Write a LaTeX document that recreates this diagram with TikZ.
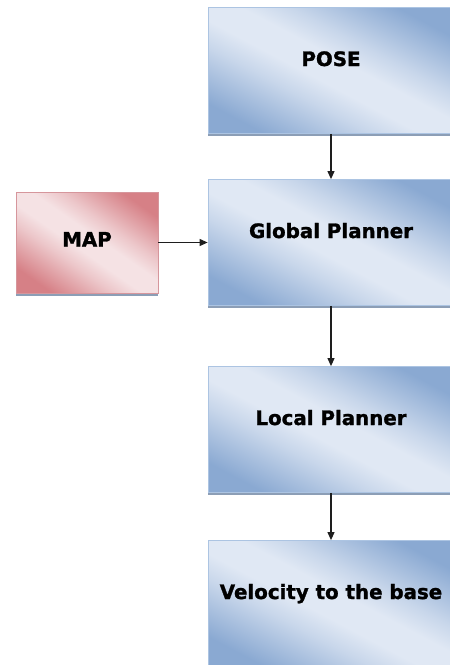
\documentclass[tikz,border=0pt]{standalone}
\usepackage{fontspec}
\setmainfont{DejaVu Sans}
\newfontfamily\blockfont{DejaVu Sans Bold}[FakeBold=1.4]
\usetikzlibrary{arrows.meta, shadows, positioning}
\definecolor{bluedark}{RGB}{138,169,210}
\definecolor{bluelight}{RGB}{224,232,244}
\definecolor{blueline}{RGB}{172,196,226}
\definecolor{reddark}{RGB}{214,128,134}
\definecolor{redlight}{RGB}{245,226,228}
\definecolor{redline}{RGB}{214,150,156}
\definecolor{shadowgray}{RGB}{140,158,182}
\definecolor{arrowgray}{RGB}{30,30,30}

% broad light band, easing out to darker corners
\pgfdeclareverticalshading{bluefade}{100bp}{color(0bp)=(bluedark); color(24bp)=(bluedark);
    color(32bp)=(bluedark!62!bluelight); color(39bp)=(bluedark!28!bluelight); color(46bp)=(bluelight);
    color(54bp)=(bluelight); color(61bp)=(bluedark!28!bluelight); color(68bp)=(bluedark!62!bluelight);
    color(76bp)=(bluedark); color(100bp)=(bluedark)}
\pgfdeclareverticalshading{redfade}{100bp}{color(0bp)=(reddark); color(24bp)=(reddark);
    color(32bp)=(reddark!62!redlight); color(39bp)=(reddark!28!redlight); color(46bp)=(redlight);
    color(54bp)=(redlight); color(61bp)=(reddark!28!redlight); color(68bp)=(reddark!62!redlight);
    color(76bp)=(reddark); color(100bp)=(reddark)}

\tikzset{
    block/.style={rectangle, draw=blueline, line width=0.8pt,
        shade, shading=bluefade, shading angle=-28,
        minimum width=246pt, minimum height=126pt, inner sep=0pt,
        font=\blockfont\fontsize{19.8}{22}\selectfont,
        text height=15pt, text depth=24pt,
        drop shadow={shadow xshift=0pt, shadow yshift=-2.5pt, fill=shadowgray, opacity=1}},
    mapblock/.style={block, draw=redline, shading=redfade, shading angle=-35,
        minimum width=142pt, minimum height=101pt,
        text height=15pt, text depth=7pt},
    flow/.style={-{Triangle[length=8pt, width=7pt]}, draw=arrowgray, line width=1.1pt}
}

\begin{document}
\begin{tikzpicture}[x=1pt, y=-1pt]
    \useasboundingbox (0,0) rectangle (450,665);

    % main chain
    \node[block] (pose) at (331,70.5) {POSE};
    \node[block] (global) at (331,242.5) {Global Planner};
    \node[block] (local) at (331,429.5) {Local Planner};
    \node[block] (velocity) at (331,603.5) {Velocity to the base};

    % map input
    \node[mapblock] (map) at (87,242.5) {MAP};

    \draw[flow] (pose) -- (global);
    \draw[flow] (global) -- (local);
    \draw[flow] (local) -- (velocity);
    \draw[flow] (map) -- (global);
\end{tikzpicture}
\end{document}
